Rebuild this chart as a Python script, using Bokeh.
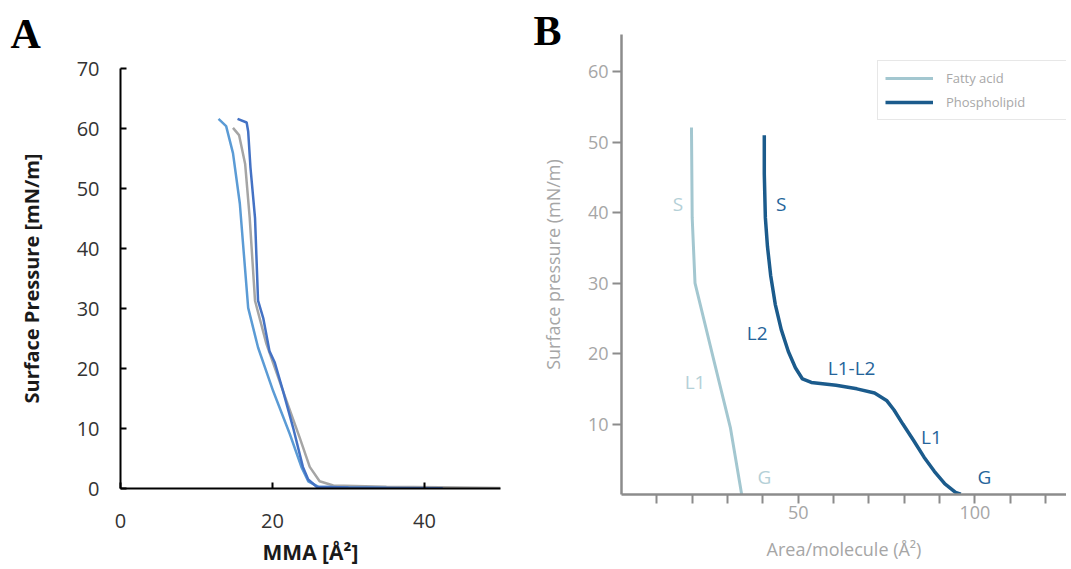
from bokeh.plotting import figure
from bokeh.layouts import row, column
from bokeh.models import Range1d, FixedTicker, Legend, LegendItem
from bokeh.core.properties import value
from bokeh.embed import file_html
from bokeh.resources import INLINE

# ---------------- Panel A data ----------------
a_light_x = [12.9, 13.9, 14.8, 15.7, 16.8, 18.1, 20.1, 22.3, 23.8, 24.7, 26.0, 30.0, 35.0, 41.8]
a_light_y = [61.6, 60.4, 55.9, 47.5, 30.1, 23.5, 16.2, 9.0, 3.6, 1.2, 0.3, 0.15, 0.1, 0.05]
a_gray_x = [14.8, 15.6, 16.4, 17.0, 17.7, 19.2, 21.4, 23.6, 24.9, 26.2, 28.0, 35.0, 42.0, 50.0]
a_gray_y = [60.1, 58.9, 54.1, 45.1, 31.3, 24.1, 16.2, 8.4, 3.6, 1.2, 0.5, 0.3, 0.2, 0.1]
a_dark_x = [15.4, 16.6, 16.8, 17.1, 17.7, 18.1, 18.8, 19.6, 20.3, 21.4, 22.7, 24.0, 24.7, 25.8, 30.0, 36.0, 42.4]
a_dark_y = [61.6, 61.0, 59.5, 53.5, 45.1, 31.3, 28.3, 22.9, 21.0, 16.2, 10.2, 3.6, 1.5, 0.3, 0.15, 0.1, 0.05]
a_xticks = [0, 20, 40]
a_yticks = [0, 10, 20, 30, 40, 50, 60, 70]

# ---------------- Panel B data ----------------
fatty_x = [19.8, 20.0, 20.8, 26.3, 30.8, 34.0]
fatty_y = [52.1, 39.3, 30.0, 18.7, 9.5, 0.0]
phos_x = [40.4, 40.4, 40.7, 41.3, 42.2, 43.5, 45.2, 47.2, 49.2, 51.2, 53.7, 60.7, 66.6, 71.6, 75.1,
          77.1, 79.6, 82.6, 85.6, 88.5, 91.5, 94.5, 96.0]
phos_y = [51.0, 45.5, 39.3, 35.2, 31.1, 27.0, 23.4, 20.3, 18.0, 16.4, 15.9, 15.5, 15.0, 14.4, 13.3,
          12.0, 10.0, 7.7, 5.3, 3.3, 1.5, 0.3, 0.05]
fatty_labels = ["S", "L1", "G"]
fatty_lab_x = [16.0, 20.8, 40.4]
fatty_lab_y = [41.3, 15.9, 2.5]
phos_labels = ["S", "L2", "L1-L2", "L1", "G"]
phos_lab_x = [45.2, 38.4, 65.1, 87.7, 102.7]
phos_lab_y = [41.3, 22.9, 18.0, 8.2, 2.5]
b_xticks = [10, 20, 30, 40, 50, 60, 70, 80, 90, 100, 110, 120]
b_xtick_labels = {10: "", 20: "", 30: "", 40: "", 50: "50", 60: "", 70: "", 80: "", 90: "", 100: "100", 110: "", 120: ""}
b_yticks = [10, 20, 30, 40, 50, 60]

FONT = "Open Sans"

# ---------------- Panel A ----------------
pA = figure(frame_width=380, frame_height=420, x_range=Range1d(0, 50), y_range=Range1d(0, 70),
            output_backend="svg", toolbar_location=None, title="A",
            min_border_left=120, min_border_right=29, min_border_top=68, min_border_bottom=40)
pA.outline_line_color = None
pA.grid.visible = False
for ax in (pA.xaxis[0], pA.yaxis[0]):
    ax.axis_line_color = "black"
    ax.axis_line_width = 2
    ax.major_tick_line_color = "black"
    ax.major_tick_line_width = 2
    ax.major_tick_in = 6
    ax.major_tick_out = 0
    ax.minor_tick_line_color = None
    ax.major_label_text_font = FONT
    ax.major_label_text_font_size = "20px"
    ax.major_label_text_color = "#333333"
    ax.axis_label_text_font = FONT
    ax.axis_label_text_font_style = "bold"
    ax.axis_label_text_color = "#1a1a1a"
pA.xaxis.ticker = FixedTicker(ticks=a_xticks)
pA.yaxis.ticker = FixedTicker(ticks=a_yticks)
pA.xaxis.major_label_standoff = 25
pA.yaxis.major_label_standoff = 21
pA.xaxis.axis_label = "MMA [Å²]"
pA.xaxis.axis_label_text_font_size = "21px"
pA.xaxis.axis_label_standoff = 7
pA.yaxis.axis_label = "Surface Pressure [mN/m]"
pA.yaxis.axis_label_text_font_size = "20px"
pA.yaxis.axis_label_standoff = 29

pA.title.align = "left"
pA.title.vertical_align = "top"
pA.title.offset = -110
pA.title.text_font = "Liberation Serif"
pA.title.text_font_style = "bold"
pA.title.text_font_size = "42px"
pA.title.text_color = "black"
pA.title.standoff = 20

pA.line(a_gray_x, a_gray_y, line_color="#A5A5A5", line_width=2.5)
pA.line(a_light_x, a_light_y, line_color="#5B9BD5", line_width=2.5)
pA.line(a_dark_x, a_dark_y, line_color="#4472C4", line_width=2.5)

# ---------------- Panel B ----------------
pB = figure(frame_width=445, frame_height=460, x_range=Range1d(0, 125.9), y_range=Range1d(0, 65.3),
            output_backend="svg", toolbar_location=None, title="B",
            min_border_left=92, min_border_right=0, min_border_top=34, min_border_bottom=40)
pB.outline_line_color = None
pB.grid.visible = False
for ax in (pB.xaxis[0], pB.yaxis[0]):
    ax.axis_line_color = "#8c8c8c"
    ax.axis_line_width = 2.5
    ax.major_tick_line_color = "#8c8c8c"
    ax.major_tick_line_width = 2
    ax.major_tick_in = 0
    ax.major_tick_out = 9
    ax.minor_tick_line_color = None
    ax.major_label_text_font = FONT
    ax.major_label_text_font_size = "18px"
    ax.major_label_text_color = "#a6a6a6"
    ax.axis_label_text_font = FONT
    ax.axis_label_text_font_style = "normal"
    ax.axis_label_text_font_size = "18px"
    ax.axis_label_text_color = "#a6a6a6"
pB.xaxis.ticker = FixedTicker(ticks=b_xticks)
pB.xaxis.major_label_overrides = b_xtick_labels
pB.yaxis.ticker = FixedTicker(ticks=b_yticks)
pB.xaxis.major_label_standoff = 2
pB.yaxis.major_label_standoff = 4
pB.xaxis.axis_label = "Area/molecule (Å²)"
pB.xaxis.axis_label_standoff = 15
pB.yaxis.axis_label = "Surface pressure (mN/m)"
pB.yaxis.axis_label_standoff = 20

pB.title.align = "left"
pB.title.offset = -88
pB.title.text_font = "Liberation Serif"
pB.title.text_font_style = "bold"
pB.title.text_font_size = "42px"
pB.title.text_color = "black"
pB.title.standoff = -38

rf = pB.line(fatty_x, fatty_y, line_color="#a3c7d0", line_width=3)
rp = pB.line(phos_x, phos_y, line_color="#1b5b8c", line_width=3.5)

pB.text(fatty_lab_x, fatty_lab_y, text=fatty_labels, text_align="center", text_baseline="middle",
        text_font=value(FONT), text_font_size="19px", text_color="#b4d0d7")
pB.text(phos_lab_x, phos_lab_y, text=phos_labels, text_align="center", text_baseline="middle",
        text_font=value(FONT), text_font_size="19px", text_color="#25649a")

legend = Legend(items=[LegendItem(label="Fatty acid", renderers=[rf]),
                       LegendItem(label="Phospholipid", renderers=[rp])],
                location=(256, 374), orientation="vertical",
                glyph_width=48, glyph_height=20, label_height=20, spacing=4, padding=7, margin=0,
                label_standoff=13, label_width=120,
                label_text_font=FONT, label_text_font_size="13px", label_text_color="#a8a8a8",
                border_line_color="#d0d0d0", border_line_width=1, background_fill_alpha=1)
pB.add_layout(legend)

layout = row(column(pA), column(pB))
open("out.html", "w").write(file_html(layout, INLINE))
